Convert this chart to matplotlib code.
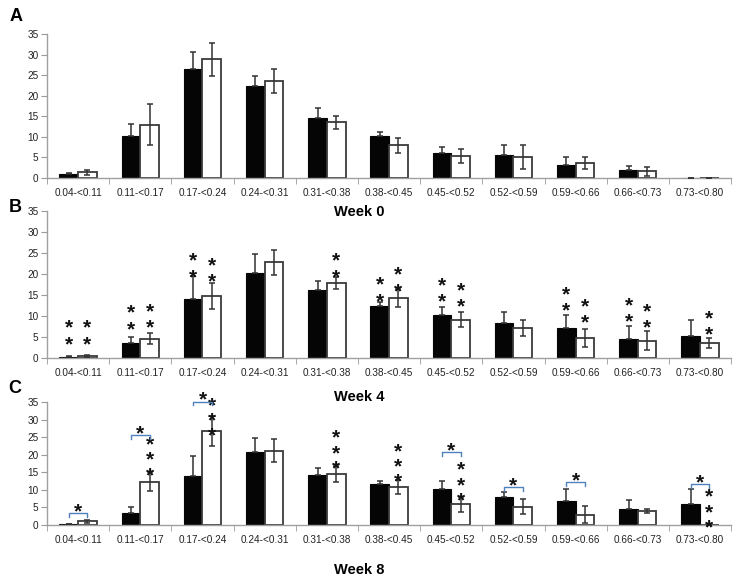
import matplotlib.pyplot as plt
from matplotlib.transforms import offset_copy
import numpy as np

plt.rcParams['font.family'] = ['Liberation Sans', 'DejaVu Sans']

categories = ['0.04-<0.11', '0.11-<0.17', '0.17-<0.24', '0.24-<0.31', '0.31-<0.38',
              '0.38-<0.45', '0.45-<0.52', '0.52-<0.59', '0.59-<0.66', '0.66-<0.73',
              '0.73-<0.80']

# Week 0
a_black = [0.9, 10.3, 26.5, 22.3, 14.6, 10.1, 6.1, 5.5, 3.1, 1.9, 0]
a_black_err = [0.2, 2.8, 4.1, 2.4, 2.3, 1.0, 1.5, 2.4, 2.1, 0.9, 0]
a_white = [1.4, 13.0, 28.9, 23.6, 13.5, 7.9, 5.3, 5.0, 3.7, 1.6, 0]
a_white_err = [0.6, 4.9, 4.0, 2.9, 1.6, 1.8, 1.7, 2.9, 1.4, 1.1, 0]

# Week 4
b_black = [0.3, 3.7, 14.0, 20.2, 16.3, 12.4, 10.4, 8.5, 7.1, 4.5, 5.2]
b_black_err = [0.2, 1.4, 5.5, 4.7, 2.0, 1.0, 1.9, 2.6, 3.3, 3.2, 3.9]
b_white = [0.5, 4.7, 14.8, 22.8, 17.8, 14.3, 9.2, 7.1, 4.8, 4.2, 3.6]
b_white_err = [0.2, 1.4, 3.2, 3.0, 1.4, 2.2, 1.8, 1.9, 2.1, 2.3, 1.2]

# Week 8
c_black = [0.15, 3.5, 14.0, 20.7, 14.2, 11.8, 10.3, 8.1, 6.9, 4.5, 5.9]
c_black_err = [0.1, 1.5, 5.6, 4.0, 2.0, 0.8, 2.3, 1.2, 3.4, 2.5, 4.3]
c_white = [1.0, 12.4, 26.8, 21.2, 14.5, 10.9, 5.9, 5.2, 2.9, 4.0, 0]
c_white_err = [0.4, 2.8, 4.4, 3.2, 2.2, 2.0, 2.2, 2.1, 2.4, 0.7, 0]

# significance marks: (category index, bar 0=black 1=white, number of stars, height of lowest star)
b_stars = [(0, 0, 2, 4.75), (1, 0, 2, 8.3), (2, 0, 2, 20.7), (5, 0, 2, 15.0),
           (6, 0, 2, 14.9), (8, 0, 2, 12.7), (9, 0, 2, 10.1),
           (0, 1, 2, 4.75), (1, 1, 2, 8.7), (2, 1, 2, 19.6), (4, 1, 2, 20.7),
           (5, 1, 2, 17.4), (6, 1, 2, 13.7), (8, 1, 2, 9.9), (9, 1, 2, 8.7),
           (10, 1, 2, 7.0)]
c_stars = [(1, 1, 3, 15.9), (2, 1, 3, 27.1), (4, 1, 3, 17.8), (5, 1, 3, 14.0),
           (6, 1, 3, 8.6), (10, 1, 3, 1.0)]
# brackets between black and white bars: (category index, bracket height)
c_brackets = [(0, 3.5), (1, 25.7), (2, 35.2), (6, 20.7), (7, 10.9), (8, 12.2), (10, 11.6)]

fig = plt.figure(figsize=(7.4, 5.83), dpi=100)
x = np.arange(len(categories))
w = 0.3
STAR_FS = 15


def draw_stars(ax, xpos, y0, n, spacing):
    # one text per stack, lowest star baseline anchored, star centre at y0
    tr = offset_copy(ax.transData, fig=fig, y=-0.57 * STAR_FS, units='points')
    ax.text(xpos, y0, '\n'.join(['*'] * n), transform=tr, ha='center', va='baseline',
            fontsize=STAR_FS, fontweight='bold', color='#111111', clip_on=False,
            linespacing=spacing / (0.716 * STAR_FS))


def panel(rect, black, black_err, white, white_err, letter, letter_xy, week, week_y):
    ax = fig.add_axes(rect)
    ax.bar(x - w / 2, black, w, color='#050505', edgecolor='#050505', linewidth=0.8, zorder=2)
    ax.bar(x + w / 2, white, w, color='white', edgecolor='#3a3a3a', linewidth=1.3, zorder=2)
    ax.errorbar(x - w / 2, black, yerr=[np.zeros(len(black)), black_err], fmt='none',
                ecolor='#333333', elinewidth=1.1, capsize=2.3, capthick=1.1, zorder=3)
    ax.errorbar(x + w / 2, white, yerr=white_err, fmt='none',
                ecolor='#333333', elinewidth=1.1, capsize=2.3, capthick=1.1, zorder=3)
    ax.set_xlim(-0.5, len(categories) - 0.5)
    ax.set_ylim(0, 35)
    ax.set_yticks(range(0, 36, 5))
    ax.set_xticks(x)
    ax.set_xticklabels(categories)
    ax.set_xticks(np.arange(-0.5, len(categories)), minor=True)
    ax.tick_params(axis='x', which='major', length=0, pad=7, labelsize=7.2, labelcolor='#222222')
    ax.tick_params(axis='x', which='minor', length=4, color='#999999', direction='out')
    ax.tick_params(axis='y', length=4, color='#999999', labelsize=7.2, labelcolor='#222222', pad=2)
    for s in ['top', 'right']:
        ax.spines[s].set_visible(False)
    for s in ['left', 'bottom']:
        ax.spines[s].set_color('#a0a0a0')
        ax.spines[s].set_linewidth(1.0)
    fig.text(letter_xy[0], letter_xy[1], letter, fontsize=13, fontweight='bold',
             ha='center', va='center')
    fig.text(0.486, week_y, week, fontsize=10.5, fontweight='bold', ha='center', va='center')
    return ax


ax_a = panel([0.0635, 0.6947, 0.9245, 0.247], a_black, a_black_err, a_white, a_white_err,
             'A', (0.022, 0.971), 'Week 0', 0.636)
ax_b = panel([0.0635, 0.3854, 0.9245, 0.2527], b_black, b_black_err, b_white, b_white_err,
             'B', (0.020, 0.644), 'Week 4', 0.319)
ax_c = panel([0.0635, 0.0995, 0.9245, 0.2104], c_black, c_black_err, c_white, c_white_err,
             'C', (0.020, 0.333), 'Week 8', 0.022)

for i, side, n, y0 in b_stars:
    draw_stars(ax_b, i + (w / 2 if side else -w / 2), y0, n, 9.0)
for i, side, n, y0 in c_stars:
    draw_stars(ax_c, i + (w / 2 if side else -w / 2), y0, n, 8.2)
for i, h in c_brackets:
    ax_c.plot([i - w / 2, i - w / 2, i + w / 2, i + w / 2], [h - 1.1, h, h, h - 1.1],
              color='#4f81bd', linewidth=1.0, clip_on=False, zorder=4)
    tr = offset_copy(ax_c.transData, fig=fig, y=5.5 - 0.57 * STAR_FS, units='points')
    ax_c.text(i, h, '*', transform=tr, ha='center', va='baseline', fontsize=STAR_FS,
              fontweight='bold', color='#111111', clip_on=False)

fig.savefig('out.png', dpi=100)
